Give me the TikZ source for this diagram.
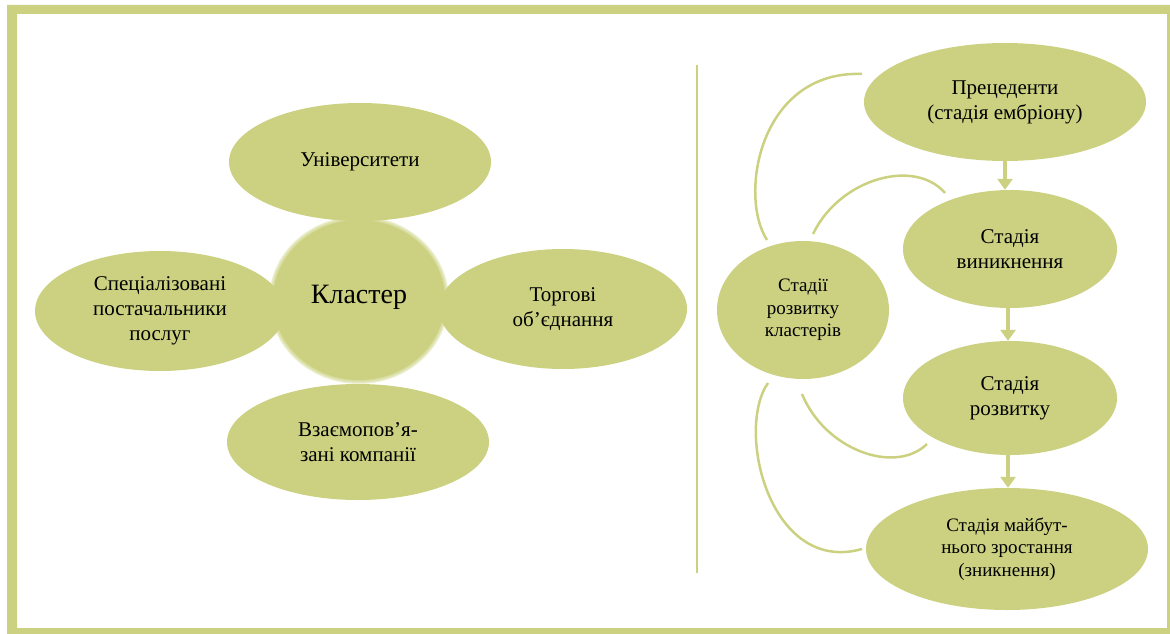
\documentclass[tikz,border=0pt]{standalone}
\usepackage{fontspec}
\setmainfont{Liberation Serif}
\usetikzlibrary{shapes.geometric,arrows.meta}
\definecolor{leaf}{HTML}{CBD180}
\begin{document}
\begin{tikzpicture}[x=1pt,y=-1pt,
  blob/.style={ellipse, fill=leaf, inner sep=0pt, align=center, text=black,
    font=\fontsize{21}{25}\selectfont},
  smallblob/.style={blob, font=\fontsize{19}{22.5}\selectfont},
  arr/.style={draw=leaf, line width=4pt, -{Triangle[width=15pt,length=11pt]}},
  arc/.style={draw=leaf, line width=2.5pt},
  divider/.style={draw=leaf, line width=2pt}]
\useasboundingbox (0,0) rectangle (1170,634);
% frame
\fill[leaf, even odd rule] (7,5) rectangle (1170,634) (17,14) rectangle (1167,628);
% left cluster
\node[blob, minimum width=262pt, minimum height=118pt] (uni) at (360,162) {Університети};
\node[blob, minimum width=250pt, minimum height=120pt] (spec) at (160,311) {Спеціалізовані\\постачальники\\послуг};
\node[blob, minimum width=248pt, minimum height=120pt] (torg) at (563,309) {Торгові\\об’єднання};
\node[blob, minimum width=262pt, minimum height=116pt] (vzaem) at (358,442) {Взаємопов’я-\\зані компанії};
% soft-edged centre
\fill[leaf] (359,300) ellipse [x radius=86pt, y radius=80pt];
\foreach \i in {0,...,4}{
  \fill[leaf, opacity=0.3] (359,300) ellipse [x radius={(86+\i)*1pt}, y radius={(80+\i)*1pt}];
}
\node[ellipse, inner sep=0pt, minimum width=178pt, minimum height=160pt,
  font=\fontsize{28}{32}\selectfont] (kl) at (359,297) {Кластер};
% divider
\coordinate (dtop) at (697,65);
\coordinate (dbot) at (697,573);
\draw[divider] (dtop) -- (dbot);
% right side
\node[blob, minimum width=282pt, minimum height=118pt] (prec) at (1005,102) {Прецеденти\\(стадія ембріону)};
\node[blob, minimum width=214pt, minimum height=118pt] (vyn) at (1010,249) {Стадія\\виникнення};
\node[blob, minimum width=214pt, minimum height=114pt] (rozv) at (1010,398) {Стадія\\розвитку};
\node[smallblob, minimum width=282pt, minimum height=122pt] (maib) at (1007,549) {Стадія майбут-\\нього зростання\\(зникнення)};
\node[smallblob, minimum width=172pt, minimum height=138pt] (stad) at (803,310) {Стадії\\розвитку\\кластерів};
% arrows
\draw[arr] (prec.south) -- (prec.south |- vyn.north);
\draw[arr] ([xshift=-2pt]vyn.south) -- ([xshift=-2pt]vyn.south |- rozv.north);
\draw[arr] ([xshift=-2pt]rozv.south) -- ([xshift=-2pt]rozv.south |- maib.north);
% arcs
\coordinate (a1s) at (767,240); \coordinate (a1e) at (862,74);
\coordinate (a2s) at (813,234); \coordinate (a2e) at (945,193);
\coordinate (a3s) at (802,394); \coordinate (a3e) at (927,444);
\coordinate (a4s) at (768,383); \coordinate (a4e) at (862,549);
\draw[arc] (a1s) .. controls (738,195) and (760,70) .. (a1e);
\draw[arc] (a2s) .. controls (840,178) and (915,158) .. (a2e);
\draw[arc] (a3s) .. controls (825,450) and (895,475) .. (a3e);
\draw[arc] (a4s) .. controls (735,430) and (770,575) .. (a4e);
\end{tikzpicture}
\end{document}
